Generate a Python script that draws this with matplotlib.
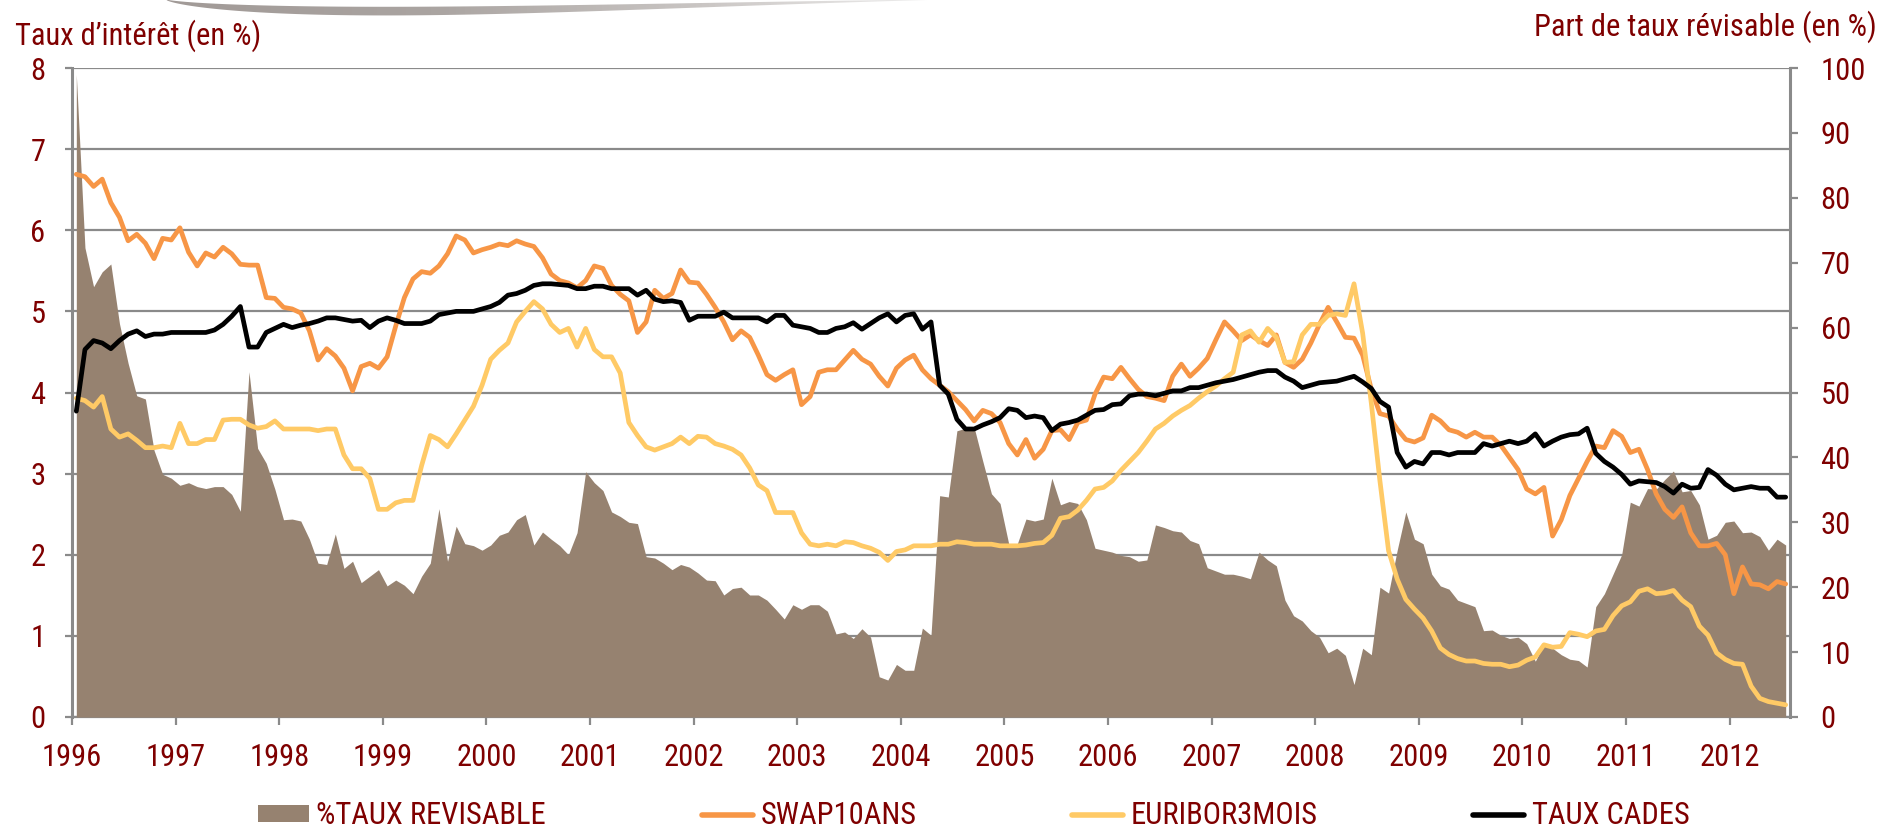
import numpy as np
import matplotlib
matplotlib.use("Agg")
import matplotlib.pyplot as plt
import matplotlib.font_manager as fm
from matplotlib.patches import Patch, Polygon
from matplotlib.lines import Line2D

# ---------------- data (monthly, Jan 1996 -> Jul 2012) ----------------
start_year = 1996
years = list(range(1996, 2013))

swap10ans = [
    6.69, 6.66, 6.54, 6.63, 6.34, 6.16, 5.87, 5.95, 5.84, 5.65, 5.90, 5.88,
    6.03, 5.73, 5.56, 5.72, 5.67, 5.79, 5.71, 5.58, 5.57, 5.57, 5.17, 5.16,
    5.05, 5.03, 4.98, 4.76, 4.40, 4.54, 4.45, 4.30, 4.02, 4.32, 4.36, 4.30,
    4.44, 4.82, 5.17, 5.40, 5.49, 5.47, 5.56, 5.71, 5.93, 5.88, 5.72, 5.76,
    5.79, 5.83, 5.81, 5.87, 5.83, 5.80, 5.66, 5.46, 5.38, 5.35, 5.29, 5.38,
    5.56, 5.53, 5.32, 5.21, 5.13, 4.74, 4.87, 5.26, 5.16, 5.22, 5.51, 5.36,
    5.35, 5.21, 5.05, 4.87, 4.65, 4.76, 4.68, 4.46, 4.22, 4.15, 4.22, 4.28,
    3.85, 3.95, 4.25, 4.28, 4.28, 4.40, 4.52, 4.41, 4.35, 4.20, 4.08, 4.30,
    4.40, 4.46, 4.28, 4.17, 4.09, 4.01, 3.90, 3.79, 3.65, 3.78, 3.74, 3.63,
    3.37, 3.23, 3.42, 3.19, 3.30, 3.53, 3.54, 3.42, 3.63, 3.66, 3.98, 4.19,
    4.17, 4.31, 4.17, 4.04, 3.95, 3.93, 3.90, 4.20, 4.35, 4.20, 4.30, 4.42,
    4.65, 4.87, 4.76, 4.64, 4.71, 4.64, 4.58, 4.71, 4.37, 4.31, 4.41, 4.61,
    4.84, 5.05, 4.87, 4.68, 4.67, 4.46, 4.04, 3.74, 3.71, 3.55, 3.42, 3.39,
    3.44, 3.72, 3.65, 3.54, 3.51, 3.45, 3.51, 3.45, 3.45, 3.35, 3.20, 3.05,
    2.81, 2.75, 2.83, 2.23, 2.43, 2.73, 2.94, 3.15, 3.34, 3.32, 3.53, 3.46,
    3.26, 3.30, 3.05, 2.75, 2.56, 2.46, 2.59, 2.27, 2.11, 2.11, 2.14, 2.00,
    1.52, 1.85, 1.64, 1.63, 1.58, 1.67, 1.64,
]

euribor3mois = [
    3.93, 3.90, 3.82, 3.95, 3.55, 3.45, 3.49, 3.41, 3.32, 3.32, 3.34, 3.32,
    3.62, 3.37, 3.37, 3.42, 3.42, 3.66, 3.67, 3.67, 3.60, 3.56, 3.58, 3.65,
    3.55, 3.55, 3.55, 3.55, 3.53, 3.55, 3.55, 3.23, 3.06, 3.06, 2.94, 2.56,
    2.56, 2.64, 2.67, 2.67, 3.10, 3.47, 3.42, 3.33, 3.49, 3.66, 3.83, 4.09,
    4.41, 4.52, 4.61, 4.87, 5.00, 5.12, 5.03, 4.84, 4.74, 4.79, 4.56, 4.79,
    4.53, 4.44, 4.44, 4.24, 3.63, 3.47, 3.33, 3.29, 3.33, 3.37, 3.45, 3.37,
    3.46, 3.45, 3.37, 3.34, 3.30, 3.23, 3.07, 2.86, 2.79, 2.52, 2.52, 2.52,
    2.27, 2.13, 2.11, 2.13, 2.11, 2.16, 2.15, 2.11, 2.08, 2.03, 1.93, 2.04,
    2.06, 2.11, 2.11, 2.11, 2.13, 2.13, 2.16, 2.15, 2.13, 2.13, 2.13, 2.11,
    2.11, 2.11, 2.12, 2.14, 2.15, 2.24, 2.45, 2.47, 2.55, 2.67, 2.81, 2.83,
    2.91, 3.04, 3.15, 3.26, 3.40, 3.55, 3.62, 3.71, 3.78, 3.84, 3.93, 4.01,
    4.08, 4.17, 4.25, 4.71, 4.76, 4.62, 4.79, 4.68, 4.37, 4.38, 4.71, 4.84,
    4.84, 4.95, 4.97, 4.95, 5.34, 4.73, 3.87, 2.91, 2.05, 1.70, 1.45, 1.33,
    1.22, 1.06, 0.85, 0.77, 0.72, 0.69, 0.69, 0.66, 0.65, 0.65, 0.62, 0.64,
    0.70, 0.74, 0.89, 0.86, 0.87, 1.04, 1.02, 0.99, 1.06, 1.08, 1.25, 1.37,
    1.42, 1.55, 1.58, 1.52, 1.53, 1.56, 1.44, 1.36, 1.12, 1.01, 0.79, 0.71,
    0.66, 0.65, 0.38, 0.23, 0.19, 0.17, 0.15,
]

taux_cades = [
    3.77, 4.53, 4.64, 4.61, 4.54, 4.64, 4.72, 4.76, 4.69, 4.72, 4.72, 4.74,
    4.74, 4.74, 4.74, 4.74, 4.77, 4.84, 4.94, 5.06, 4.56, 4.56, 4.74, 4.79,
    4.84, 4.80, 4.83, 4.85, 4.88, 4.92, 4.92, 4.90, 4.88, 4.89, 4.80, 4.88,
    4.92, 4.89, 4.85, 4.85, 4.85, 4.88, 4.96, 4.98, 5.00, 5.00, 5.00, 5.03,
    5.06, 5.11, 5.20, 5.22, 5.26, 5.32, 5.34, 5.34, 5.33, 5.32, 5.28, 5.28,
    5.31, 5.31, 5.28, 5.28, 5.28, 5.20, 5.26, 5.15, 5.12, 5.13, 5.11, 4.89,
    4.94, 4.94, 4.94, 4.99, 4.92, 4.92, 4.92, 4.92, 4.87, 4.95, 4.95, 4.83,
    4.81, 4.79, 4.74, 4.74, 4.79, 4.81, 4.86, 4.78, 4.85, 4.92, 4.97, 4.87,
    4.95, 4.97, 4.78, 4.87, 4.09, 3.98, 3.67, 3.55, 3.55, 3.60, 3.64, 3.69,
    3.80, 3.78, 3.69, 3.71, 3.69, 3.53, 3.61, 3.63, 3.66, 3.72, 3.78, 3.79,
    3.85, 3.86, 3.96, 3.98, 3.98, 3.96, 3.99, 4.02, 4.02, 4.06, 4.06, 4.09,
    4.12, 4.14, 4.16, 4.19, 4.22, 4.25, 4.27, 4.27, 4.19, 4.14, 4.06, 4.09,
    4.12, 4.13, 4.14, 4.17, 4.20, 4.13, 4.05, 3.89, 3.82, 3.26, 3.08, 3.15,
    3.12, 3.26, 3.26, 3.23, 3.26, 3.26, 3.26, 3.37, 3.34, 3.37, 3.40, 3.37,
    3.40, 3.49, 3.34, 3.40, 3.45, 3.48, 3.49, 3.56, 3.25, 3.15, 3.08, 2.99,
    2.87, 2.91, 2.90, 2.89, 2.84, 2.76, 2.87, 2.82, 2.83, 3.05, 2.98, 2.87,
    2.80, 2.82, 2.84, 2.82, 2.82, 2.71, 2.71,
]

taux_revisable = [
    99.0, 72.3, 66.3, 68.6, 69.8, 60.6, 54.5, 49.5, 49.0, 41.1, 37.4, 36.8,
    35.7, 36.1, 35.5, 35.2, 35.5, 35.5, 34.3, 31.7, 53.2, 41.4, 39.1, 35.1,
    30.4, 30.5, 30.2, 27.4, 23.7, 23.5, 28.2, 22.9, 24.0, 20.7, 21.7, 22.7,
    20.2, 21.1, 20.3, 19.0, 21.7, 23.7, 32.1, 24.0, 29.4, 26.7, 26.4, 25.7,
    26.5, 28.0, 28.5, 30.4, 31.2, 26.5, 28.5, 27.4, 26.4, 25.0, 28.4, 37.8,
    36.1, 34.9, 31.6, 30.9, 30.0, 29.8, 24.7, 24.5, 23.7, 22.7, 23.5, 23.1,
    22.2, 21.1, 21.0, 18.8, 19.8, 20.0, 18.8, 18.8, 18.0, 16.6, 15.1, 17.3,
    16.6, 17.3, 17.3, 16.3, 12.8, 13.1, 12.1, 13.6, 12.3, 6.2, 5.7, 8.1,
    7.2, 7.2, 13.7, 12.6, 34.1, 33.9, 44.1, 44.5, 44.6, 39.4, 34.4, 32.9,
    26.7, 26.7, 30.5, 30.2, 30.5, 36.8, 32.7, 33.2, 32.9, 30.4, 26.0, 25.7,
    25.4, 24.9, 24.7, 24.0, 24.2, 29.6, 29.2, 28.7, 28.5, 27.2, 26.7, 23.0,
    22.5, 22.0, 22.0, 21.7, 21.3, 25.4, 24.2, 23.3, 18.0, 15.6, 14.8, 13.3,
    12.3, 9.9, 10.6, 9.5, 5.0, 10.6, 9.6, 20.0, 19.1, 25.7, 31.6, 27.4,
    26.7, 22.0, 20.2, 19.7, 18.0, 17.5, 17.0, 13.3, 13.4, 12.6, 12.1, 12.3,
    11.3, 8.6, 11.3, 10.6, 9.6, 8.9, 8.7, 7.7, 17.0, 19.0, 22.0, 25.0,
    33.1, 32.5, 35.2, 35.1, 36.6, 37.9, 34.7, 34.9, 32.7, 27.4, 28.0, 30.0,
    30.2, 28.4, 28.5, 27.8, 25.7, 27.4, 26.5,
]

left_ticks = [0, 1, 2, 3, 4, 5, 6, 7, 8]
right_ticks = [0, 10, 20, 30, 40, 50, 60, 70, 80, 90, 100]
labels = ["%TAUX REVISABLE", "SWAP10ANS", "EURIBOR3MOIS", "TAUX CADES"]

# ---------------- styling ----------------
C_AREA = "#968270"
C_SWAP = "#F79646"
C_EUR = "#FFCA66"
C_CADES = "#000000"
C_TEXT = "#7F0000"
C_AXIS = "#8A8A8A"

# pick a narrow / condensed sans if one is installed (reference uses Arial Narrow)
entries = fm.fontManager.ttflist
names = {f.name for f in entries}
FONT, FS, STRETCH = None, 22, "normal"
for cand in ["Liberation Sans Narrow", "Arial Narrow", "Roboto Condensed",
             "Open Sans Condensed", "Noto Sans Condensed", "Noto Sans Display Condensed",
             "DejaVu Sans Condensed"]:
    if cand in names:
        FONT = cand
        break
if FONT is None:
    for fam in ["Liberation Sans", "Roboto", "Noto Sans", "Open Sans", "Lato", "Inter"]:
        hits = [f for f in entries if f.name == fam and str(f.stretch) in
                ("condensed", "semi-condensed", "extra-condensed", "500", "600", "700")]
        if hits:
            FONT, STRETCH = fam, str(hits[0].stretch)
            break
if FONT is None:
    FONT, FS = "Liberation Sans", 19
plt.rcParams["font.family"] = [FONT, "DejaVu Sans"]
if STRETCH != "normal":
    try:
        plt.rcParams["font.stretch"] = STRETCH
    except Exception:
        pass

W, H, DPI = 1890, 832, 100
fig = plt.figure(figsize=(W / DPI, H / DPI), dpi=DPI)
fig.patch.set_facecolor("white")

# plot area in pixels
L, R, T, B = 72, 1790, 68, 717
rect = [L / W, 1 - B / H, (R - L) / W, (B - T) / H]

n = len(swap10ans)
x = start_year + (np.arange(n) + 0.5) / 12.0
xmin, xmax = start_year, start_year + n / 12.0

ax = fig.add_axes(rect)          # left axis + gridlines
ax2 = ax.twinx()                 # right axis + area
ax3 = ax.twinx()                 # lines on left scale

for a in (ax, ax2, ax3):
    a.set_xlim(xmin, xmax)
    a.patch.set_visible(False)
ax.patch.set_visible(True)
ax.patch.set_facecolor("white")

ax.set_ylim(0, 8)
ax3.set_ylim(0, 8)
ax2.set_ylim(0, 100)

# gridlines
ax.set_yticks(left_ticks)
ax.yaxis.grid(True, color=C_AXIS, lw=1.6)
ax.set_axisbelow(True)
ax.set_xticks(years)
ax.set_xticklabels([str(y) for y in years])

# area
ax2.fill_between(x, 0, taux_revisable, color=C_AREA, lw=0, label=labels[0])
ax2.set_yticks(right_ticks)

# lines
lw = 3.4
kw = dict(lw=lw, solid_joinstyle="round", solid_capstyle="round")
ax3.plot(x, swap10ans, color=C_SWAP, label=labels[1], **kw)
ax3.plot(x, euribor3mois, color=C_EUR, label=labels[2], **kw)
ax3.plot(x, taux_cades, color=C_CADES, label=labels[3], **kw)

# spines & ticks
for s in ("top", "right"):
    ax.spines[s].set_visible(False)
ax.spines["left"].set_color(C_AXIS)
ax.spines["left"].set_linewidth(2.2)
ax.spines["bottom"].set_color(C_AXIS)
ax.spines["bottom"].set_linewidth(1.6)
ax.tick_params(axis="y", direction="out", length=5, width=1.6, color=C_AXIS,
               labelcolor=C_TEXT, labelsize=FS, pad=14)
ax.tick_params(axis="x", direction="out", length=6, width=1.6, color=C_AXIS,
               labelcolor=C_TEXT, labelsize=FS, pad=13)

for s in ("top", "left", "bottom"):
    ax2.spines[s].set_visible(False)
ax2.spines["right"].set_color(C_AXIS)
ax2.spines["right"].set_linewidth(2.2)
ax2.tick_params(axis="y", direction="out", length=6, width=1.6, color=C_AXIS,
                labelcolor=C_TEXT, labelsize=FS, pad=16)
ax2.tick_params(axis="x", bottom=False, labelbottom=False)

for s in ax3.spines.values():
    s.set_visible(False)
ax3.tick_params(axis="both", left=False, right=False, bottom=False,
                labelleft=False, labelright=False, labelbottom=False)

# axis titles
fig.text(15 / W, 1 - 36 / H, "Taux d\u2019int\u00e9r\u00eat (en %)", color=C_TEXT,
         fontsize=FS, ha="left", va="center")
fig.text(1877 / W, 1 - 27 / H, "Part de taux r\u00e9visable (en %)", color=C_TEXT,
         fontsize=FS, ha="right", va="center")

# legend
handles = [Patch(facecolor=C_AREA, edgecolor="none"),
           Line2D([], [], color=C_SWAP, lw=4, solid_capstyle="round"),
           Line2D([], [], color=C_EUR, lw=4, solid_capstyle="round"),
           Line2D([], [], color=C_CADES, lw=4, solid_capstyle="round")]
leg = fig.legend(handles, labels, loc="center left",
                 bbox_to_anchor=(258 / W, 1 - 816 / H), ncol=4, frameon=False,
                 fontsize=FS, handlelength=1.66, handleheight=0.5,
                 handletextpad=0.25, columnspacing=5.1, borderpad=0,
                 borderaxespad=0)
for t in leg.get_texts():
    t.set_color(C_TEXT)

# decorative swoosh at the top (slide template)
deco = fig.add_axes([0, 1 - 24 / H, 1, 24 / H])
deco.set_xlim(0, W)
deco.set_ylim(24, 0)
deco.axis("off")
tt = np.linspace(0, 1, 300)
xs = 165 + 800 * tt
env = np.sin(np.pi * tt ** 0.62) * (1 - 0.45 * tt)
bottom_edge = -1 + 19.0 * env
top_edge = -1 + 9.0 * env
poly = np.column_stack([np.r_[xs, xs[::-1]], np.r_[bottom_edge, top_edge[::-1]]])
clip = Polygon(poly, closed=True, facecolor="none", edgecolor="none")
deco.add_patch(clip)
grad = np.linspace(0, 1, 256)[None, :]
img = deco.imshow(grad, extent=[165, 965, 24, 0], aspect="auto",
                  cmap=matplotlib.colors.LinearSegmentedColormap.from_list(
                      "sw", ["#a19a97", "#aaa4a1", "#c9c5c3", "#f4f4f4"]))
img.set_clip_path(clip)

fig.savefig("out.png", dpi=DPI, facecolor="white")
